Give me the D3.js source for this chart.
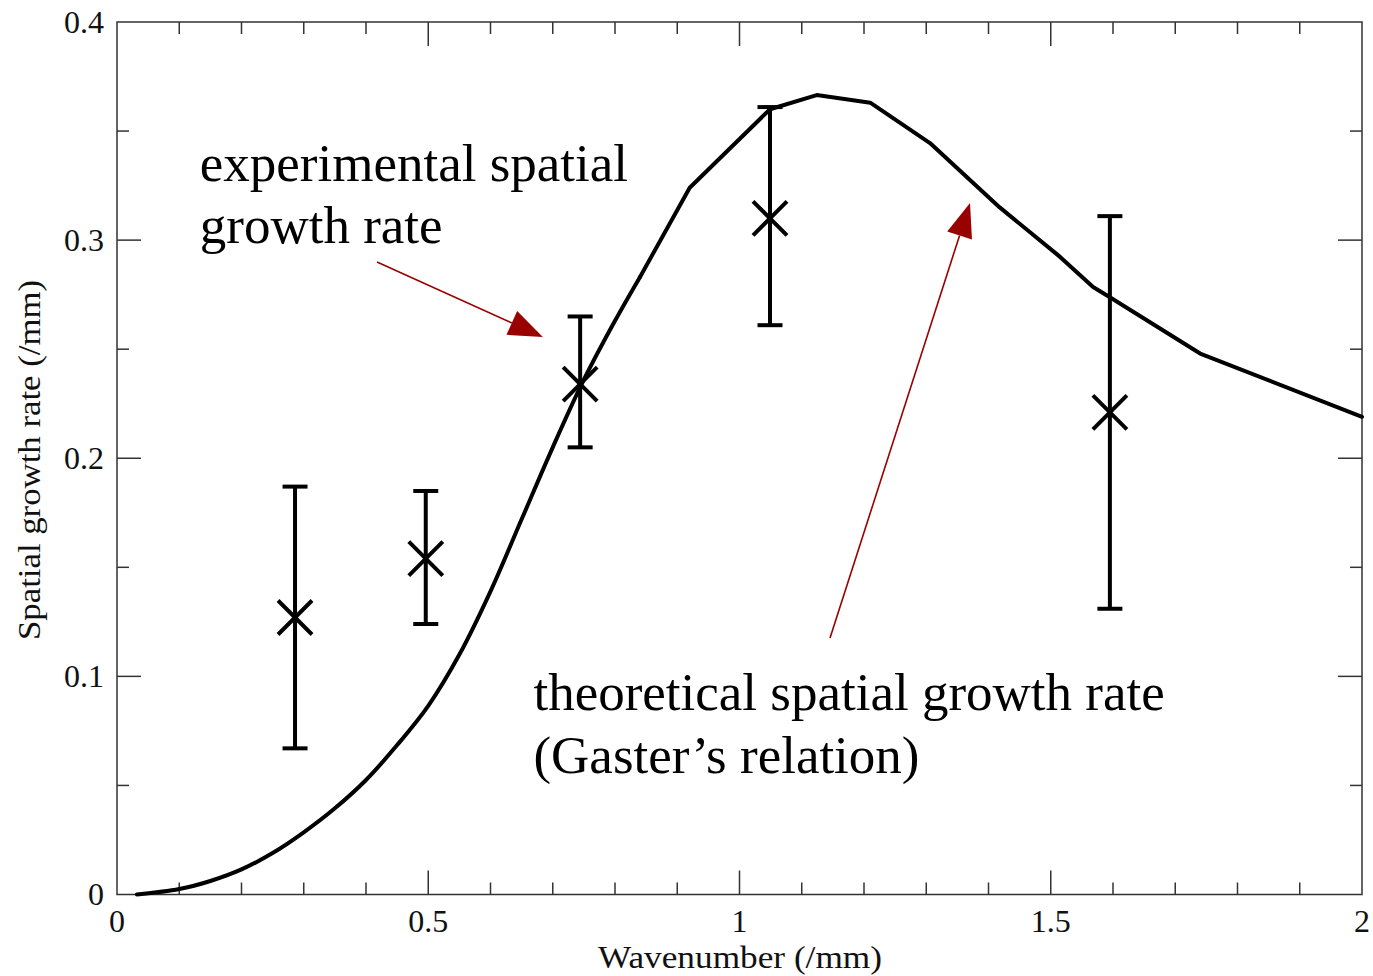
<!DOCTYPE html>
<html>
<head>
<meta charset="utf-8">
<script src="https://cdn.jsdelivr.net/npm/d3@7"></script>
<style>
  html, body { margin: 0; padding: 0; background: #fff; }
  svg { display: block; font-family: "Liberation Serif", "Times New Roman", serif; }
</style>
</head>
<body>
<svg id="chart" width="1373" height="976"></svg>
<script>
// Theoretical growth rate curve (Gaster's relation): wavenumber vs rate
const curveK    = [0.032, 0.1, 0.15, 0.2, 0.25, 0.3, 0.35, 0.4, 0.45, 0.5, 0.55, 0.6, 0.65, 0.7, 0.75, 0.8, 0.84, 0.92, 1.049, 1.124, 1.21, 1.306, 1.418, 1.515, 1.568, 1.595, 1.74, 2.0];
const curveRate = [0.0, 0.0025, 0.0062, 0.0115, 0.019, 0.0285, 0.0395, 0.0525, 0.0685, 0.0865, 0.110, 0.139, 0.172, 0.205, 0.236, 0.263, 0.283, 0.324, 0.360, 0.3665, 0.363, 0.3445, 0.315, 0.2923, 0.2785, 0.2738, 0.248, 0.219];
// Below this wavenumber the curve is drawn smoothly, above it as straight segments
const smoothUpTo = 0.84;

// Experimental measurements with error bars
const expK    = [0.286, 0.496, 0.744, 1.049, 1.595];
const expRate = [0.127, 0.154, 0.234, 0.310, 0.221];
const expLow  = [0.067, 0.124, 0.205, 0.261, 0.131];
const expHigh = [0.187, 0.185, 0.265, 0.361, 0.311];

// Axis ticks
const xMajorTicks = [0, 0.5, 1, 1.5, 2];
const xTickLabels = ["0", "0.5", "1", "1.5", "2"];
const yMajorTicks = [0, 0.1, 0.2, 0.3, 0.4];
const yTickLabels = ["0", "0.1", "0.2", "0.3", "0.4"];

const xTitle = "Wavenumber (/mm)";
const yTitle = "Spatial growth rate (/mm)";

const svg = d3.select("#chart");
const plotLeft = 117, plotRight = 1362, plotTop = 22, plotBottom = 894.5;

const x = d3.scaleLinear().domain([0, 2]).range([plotLeft, plotRight]);
const y = d3.scaleLinear().domain([0, 0.4]).range([plotBottom, plotTop]);

const axisColor = "#333";
const red = "#990000";

// Frame
svg.append("rect")
  .attr("x", plotLeft).attr("y", plotTop)
  .attr("width", plotRight - plotLeft).attr("height", plotBottom - plotTop)
  .attr("fill", "none").attr("stroke", axisColor).attr("stroke-width", 1.5);

// Ticks on all four sides, pointing inward
const xMinor = d3.range(1, 20).map(i => i / 10).filter(v => Math.abs(v * 2 - Math.round(v * 2)) > 1e-6);
const yMinor = [0.05, 0.15, 0.25, 0.35];
const majorLen = 24, minorLen = 12;
const tickG = svg.append("g").attr("stroke", axisColor).attr("stroke-width", 1.5);

function xTicks(vals, len) {
  vals.forEach(v => {
    tickG.append("line").attr("x1", x(v)).attr("x2", x(v)).attr("y1", plotBottom).attr("y2", plotBottom - len);
    tickG.append("line").attr("x1", x(v)).attr("x2", x(v)).attr("y1", plotTop).attr("y2", plotTop + len);
  });
}
function yTicks(vals, len) {
  vals.forEach(v => {
    tickG.append("line").attr("y1", y(v)).attr("y2", y(v)).attr("x1", plotLeft).attr("x2", plotLeft + len);
    tickG.append("line").attr("y1", y(v)).attr("y2", y(v)).attr("x1", plotRight).attr("x2", plotRight - len);
  });
}
xTicks(xMajorTicks.slice(1, -1), majorLen);
xTicks(xMinor, minorLen);
yTicks(yMajorTicks.slice(1, -1), majorLen);
yTicks(yMinor, minorLen);

// Tick labels
const labelSize = 32;
svg.append("g").selectAll("text").data(xMajorTicks).join("text")
  .attr("x", d => x(d)).attr("y", 932)
  .attr("text-anchor", "middle").attr("font-size", labelSize).attr("fill", "#111")
  .text((d, i) => xTickLabels[i]);
svg.append("g").selectAll("text").data(yMajorTicks).join("text")
  .attr("x", 104).attr("y", d => y(d))
  .attr("dy", "0.34em")
  .attr("text-anchor", "end").attr("font-size", labelSize).attr("fill", "#111")
  .text((d, i) => yTickLabels[i]);

// Axis titles
svg.append("text")
  .attr("x", 740).attr("y", 968)
  .attr("text-anchor", "middle").attr("font-size", 32).attr("fill", "#111")
  .attr("textLength", 284).attr("lengthAdjust", "spacingAndGlyphs")
  .text(xTitle);
svg.append("text")
  .attr("transform", "translate(40,460) rotate(-90)")
  .attr("text-anchor", "middle").attr("font-size", 32).attr("fill", "#111")
  .attr("textLength", 360).attr("lengthAdjust", "spacingAndGlyphs")
  .text(yTitle);

// Theoretical curve: smooth rising part, then straight segments
const curvePts = curveK.map((k, i) => [k, curveRate[i]]);
const risePts = curvePts.filter(d => d[0] <= smoothUpTo);
const restPts = curvePts.filter(d => d[0] >= smoothUpTo);
const curveStyle = sel => sel.attr("fill", "none").attr("stroke", "#000")
  .attr("stroke-width", 4).attr("stroke-linejoin", "round").attr("stroke-linecap", "round");
svg.append("path").datum(risePts)
  .attr("d", d3.line().x(d => x(d[0])).y(d => y(d[1])).curve(d3.curveCatmullRom.alpha(0.5)))
  .call(curveStyle);
svg.append("path").datum(restPts)
  .attr("d", d3.line().x(d => x(d[0])).y(d => y(d[1])).curve(d3.curveLinear))
  .call(curveStyle);

// Error bars and X markers
const exp = expK.map((k, i) => ({ k, r: expRate[i], lo: expLow[i], hi: expHigh[i] }));
const capHalf = 12.5, mark = 17;
const eg = svg.append("g").attr("stroke", "#000").attr("stroke-width", 4).attr("fill", "none");
exp.forEach(d => {
  const cx = x(d.k), cy = y(d.r);
  eg.append("line").attr("x1", cx).attr("x2", cx).attr("y1", y(d.hi)).attr("y2", y(d.lo));
  eg.append("line").attr("x1", cx - capHalf).attr("x2", cx + capHalf).attr("y1", y(d.hi)).attr("y2", y(d.hi));
  eg.append("line").attr("x1", cx - capHalf).attr("x2", cx + capHalf).attr("y1", y(d.lo)).attr("y2", y(d.lo));
  eg.append("line").attr("x1", cx - mark).attr("x2", cx + mark).attr("y1", cy - mark).attr("y2", cy + mark);
  eg.append("line").attr("x1", cx - mark).attr("x2", cx + mark).attr("y1", cy + mark).attr("y2", cy - mark);
});

// Annotation arrows
function arrow(x0, y0, x1, y1) {
  const px0 = x(x0), py0 = y(y0), px1 = x(x1), py1 = y(y1);
  const ang = Math.atan2(py1 - py0, px1 - px0);
  const headLen = 34, headHalf = 13;
  const bx = px1 - headLen * Math.cos(ang), by = py1 - headLen * Math.sin(ang);
  svg.append("line")
    .attr("x1", px0).attr("y1", py0).attr("x2", bx).attr("y2", by)
    .attr("stroke", red).attr("stroke-width", 1.6);
  const nx = -Math.sin(ang), ny = Math.cos(ang);
  svg.append("path")
    .attr("d", `M${px1},${py1}L${bx + nx * headHalf},${by + ny * headHalf}L${bx - nx * headHalf},${by - ny * headHalf}Z`)
    .attr("fill", red);
}
arrow(0.4177, 0.290, 0.684, 0.2556);
arrow(1.1454, 0.1176, 1.3703, 0.317);

// Annotation text
const noteSize = 53;
function note(lines, kx, rate, lineGap) {
  const t = svg.append("text").attr("font-size", noteSize).attr("fill", "#000");
  lines.forEach((s, i) => {
    t.append("tspan").attr("x", x(kx)).attr("y", y(rate) + i * lineGap).text(s);
  });
}
note(["experimental spatial", "growth rate"], 0.133, 0.327, 62);
note(["theoretical spatial growth rate", "(Gaster\u2019s relation)"], 0.669, 0.0845, 63);
</script>
</body>
</html>
